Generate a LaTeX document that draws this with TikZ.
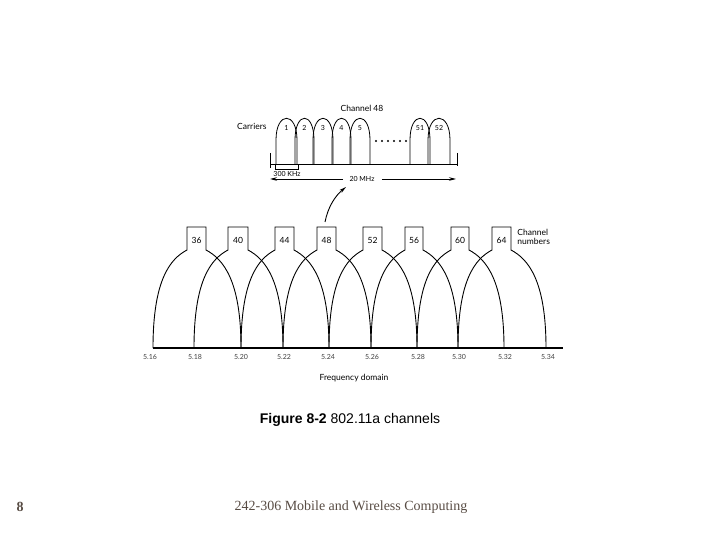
\documentclass[tikz,border=0pt]{standalone}
\usepackage{fontspec}
\setmainfont{Liberation Sans}
\newfontfamily\diagfont{Lato}
\newfontfamily\footfont{Liberation Serif}
\usetikzlibrary{arrows.meta}
\definecolor{footc}{RGB}{88,76,68}
\begin{document}
\begin{tikzpicture}[x=1pt,y=-1pt,line width=0.9pt,
  lbl/.style={inner sep=0pt,font=\diagfont\fontsize{8.5}{10}\selectfont},
  chnum/.style={inner sep=0pt,font=\diagfont\fontsize{8.5}{10}\selectfont},
  ticklbl/.style={inner sep=0pt,text=black!75,font=\diagfont\fontsize{7}{8}\selectfont},
  carnum/.style={inner sep=0pt,font=\diagfont\fontsize{7}{8}\selectfont},
  arch/.style={line width=0.9pt},
  carrier/.style={line width=0.8pt},
  arrowtip/.style={-{Stealth[length=7pt,width=3.5pt]}}]
\useasboundingbox (0,0) rectangle (720,540);

% ---- bottom: channels ----
\foreach \lab/\a/\b in {36/153/241, 40/194/283, 44/241/329, 48/283/371, 52/329/417, 56/371/458, 60/417/504, 64/458/546}{
  \pgfmathsetmacro\bl{\a+34}
  \pgfmathsetmacro\br{\b-35}
  \draw[arch] (\a,348) .. controls (\a,280) and ({\bl-17},259) .. (\bl,250) -- (\bl,227) -- (\br,227) -- (\br,250) .. controls ({\br+17},259) and (\b,280) .. (\b,348);
  \node[chnum] (c\lab) at ({(\bl+\br)/2},240) {\lab};
}
\draw[line width=1.4pt] (153,348) -- (563,348);
\foreach \x/\t in {150/5.16, 195/5.18, 241/5.20, 284/5.22, 328/5.24, 372/5.26, 418/5.28, 459/5.30, 505/5.32, 548/5.34}
  \node[ticklbl] at (\x,357) {\t};
\node[lbl,anchor=west,align=left] (chnums) at (517,237) {Channel\\[-1pt]numbers};
\node[lbl] (freq) at (354,378) {Frequency domain};

% ---- top: channel 48 carriers ----
\node[lbl] (ch48) at (362,108) {Channel 48};
\node[lbl,anchor=east] (carriers) at (267,126) {Carriers};
\draw[carrier] (270,164) -- (457,164);
\draw[carrier] (270,153) -- (270,168);
\draw[carrier] (457,153) -- (457,166);
\foreach \n/\l/\r in {1/276/297, 2/295/314, 3/313/333, 4/332/351, 5/350/370, 51/410/430, 52/428/450}{
  \draw[carrier] (\l,164) -- (\l,140) .. controls (\l,111) and (\r,111) .. (\r,140) -- (\r,164);
  \node[carnum] (k\n) at ({(\l+\r)/2},128) {\n};
}
\foreach \x in {376,382,...,406} \fill (\x,141) circle (1.1);
\draw[line width=0.6pt] (275,164) -- (275,169) -- (298,169) -- (298,164);
\node[carnum] (khz) at (287,174) {300 KHz};
\node[carnum] (mhz) at (362,179) {20 MHz};
\coordinate (mhzL) at (270,179);
\coordinate (mhzR) at (456,179);
\draw[carrier,arrowtip] (mhz.west) ++(-6,0) -- (mhzL);
\draw[carrier,arrowtip] (mhz.east) ++(7,0) -- (mhzR);

% ---- curved arrow from channel 48 to detail ----
\coordinate (arrS) at (325,222);
\coordinate (arrE) at (346,187);
\draw[line width=0.9pt,arrowtip] (arrS) .. controls (328,207) and (335,196) .. (arrE);

% ---- caption and footer ----
\node[inner sep=0pt,font=\fontsize{14}{16}\selectfont] (cap) at (350,420) {\textbf{Figure 8-2} 802.11a channels};
\node[inner sep=0pt,text=footc,font=\footfont\fontsize{14}{16}\selectfont] (foot) at (351,507) {242-306 Mobile and Wireless Computing};
\node[inner sep=0pt,text=footc,font=\footfont\bfseries\fontsize{14}{16}\selectfont] (pg) at (20,507) {8};
\end{tikzpicture}
\end{document}
